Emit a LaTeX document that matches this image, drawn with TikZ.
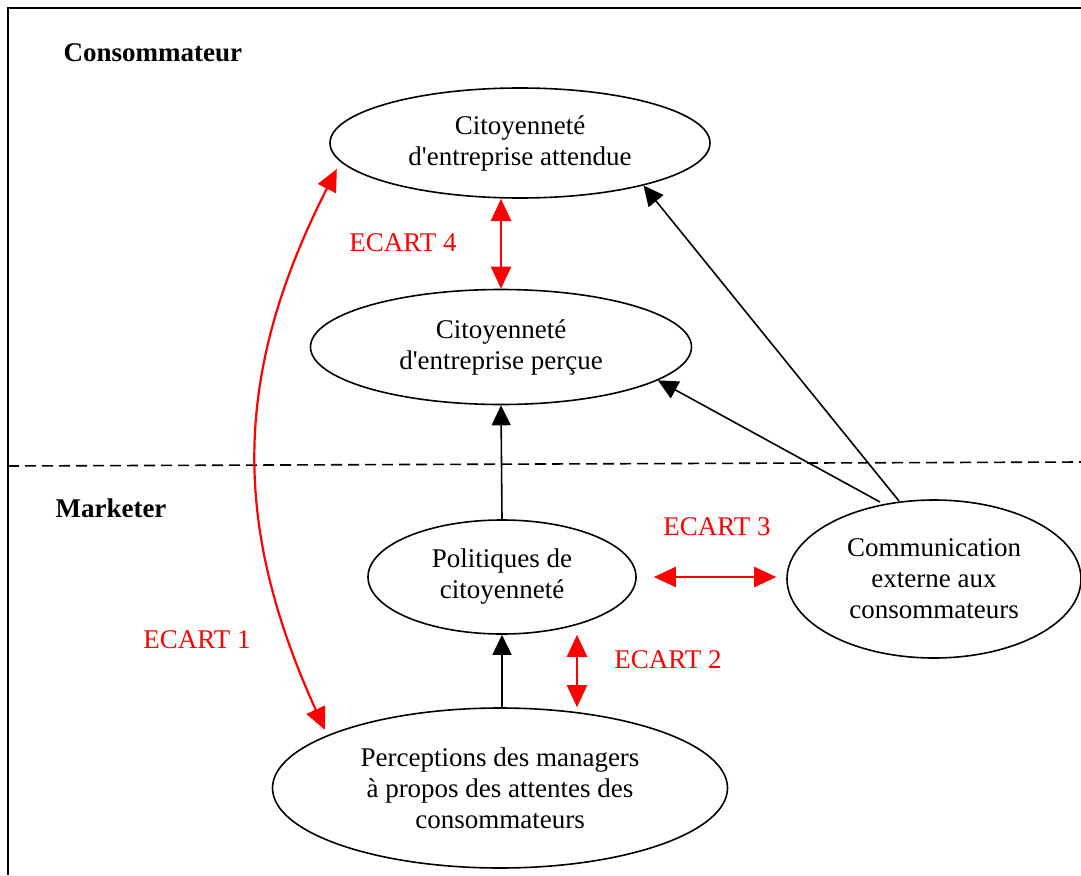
\documentclass[tikz,border=0pt]{standalone}
\usepackage{fontspec}
\setmainfont{Liberation Serif}
\usetikzlibrary{arrows.meta,shapes.geometric}
\begin{document}
\begin{tikzpicture}[x=1pt,y=-1pt,
  every node/.style={font=\fontsize{27}{31}\selectfont},
  bubble/.style={draw,ellipse,line width=1.6pt,inner sep=0pt,align=center},
  blackarrow/.style={line width=1.6pt,-{Triangle[length=20pt,width=19pt]}},
  gap/.style={draw=red,line width=2.2pt,red,{Triangle[length=22pt,width=20pt]}-{Triangle[length=22pt,width=20pt]}},
  gaplabel/.style={text=red},
  zone/.style={font=\fontsize{27}{31}\selectfont\bfseries,anchor=west}]
\useasboundingbox (0,0) rectangle (1081,875);

% frame and separator between the two zones
\draw[line width=2pt] (8,875) -- (8,8) -- (1081,8);
\draw[line width=1.6pt,dash pattern=on 11pt off 6pt] (8,466) -- (1081,462);

\node[zone] (zc) at (60,53) {Consommateur};
\node[zone] (zm) at (52,508) {Marketer};

% ellipses
\node[bubble,minimum width=380pt,minimum height=110pt] (att) at (520,143)
  {Citoyennet\'e\\d\textquotesingle entreprise attendue};
\node[bubble,minimum width=381pt,minimum height=115pt] (per) at (501,347)
  {Citoyennet\'e\\d\textquotesingle entreprise per\c{c}ue};
\node[bubble,minimum width=268pt,minimum height=114pt] (pol) at (502,577)
  {Politiques de\\citoyennet\'e};
\node[bubble,minimum width=294pt,minimum height=158pt] (com) at (934,579)
  {Communication\\externe aux\\consommateurs};
\node[bubble,minimum width=455pt,minimum height=160pt] (mgr) at (500,788)
  {Perceptions des managers\\\`a propos des attentes des\\consommateurs};

% black influence arrows
\coordinate (c1) at (880,502);
\coordinate (c2) at (899,501);
\draw[blackarrow] (pol.north) -- (per.south);
\draw[blackarrow] (mgr.north -| pol.south) -- (pol.south);
\draw[blackarrow] (c2) -- (att.-19);
\draw[blackarrow] (c1) -- (per.-12);

% gaps
\draw[gap] (per.north |- att.south) -- (per.north);
\draw[gap] ([xshift=75pt]pol.south) -- ([xshift=75pt]pol.south |- mgr.north);
\draw[gap,shorten <=17pt,shorten >=10pt] (pol.east) -- (com.west |- pol.east);
\draw[gap,shorten <=8pt,shorten >=6pt] (att.186) .. controls (232,375) and (232,525) .. (mgr.163);

\node[gaplabel] (g4) at (403,243) {ECART 4};
\node[gaplabel] (g3) at (717,527) {ECART 3};
\node[gaplabel] (g2) at (668,660) {ECART 2};
\node[gaplabel] (g1) at (197,640) {ECART 1};
\end{tikzpicture}
\end{document}
